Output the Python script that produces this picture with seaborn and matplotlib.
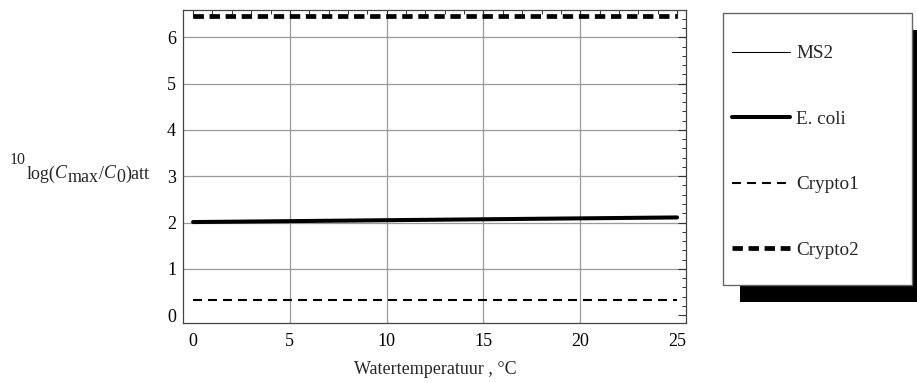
import numpy as np
import pandas as pd
import seaborn as sns
import matplotlib
matplotlib.use("Agg")
import matplotlib.pyplot as plt
from matplotlib.patches import Rectangle
from matplotlib.lines import Line2D
from matplotlib.ticker import MultipleLocator

# ---- data ----
temperature = [0, 5, 10, 15, 20, 25]
ms2 = [7.6, 7.6, 7.6, 7.6, 7.6, 7.6]          # above the plotted range (not visible)
ecoli = [2.01, 2.03, 2.05, 2.07, 2.09, 2.11]
crypto1 = [0.33, 0.33, 0.33, 0.33, 0.33, 0.33]
crypto2 = [6.46, 6.46, 6.46, 6.46, 6.46, 6.46]
series_names = ["MS2", "E. coli", "Crypto1", "Crypto2"]
x_ticks = [0, 5, 10, 15, 20, 25]
y_ticks = [0, 1, 2, 3, 4, 5, 6]
x_grid = [5, 10, 15, 20]
y_grid = [1, 2, 3, 4, 5, 6]

sns.set_style("white")
plt.rcParams["font.family"] = ["Liberation Serif", "DejaVu Serif"]

FS = 13
W, H = 917, 383
fig = plt.figure(figsize=(W / 100, H / 100), dpi=100)
ax = fig.add_axes([183 / W, 1 - 323 / H, (686 - 183) / W, (323 - 10) / H])

df = pd.DataFrame({"T": temperature, "MS2": ms2, "E. coli": ecoli,
                   "Crypto1": crypto1, "Crypto2": crypto2})

styles = {
    "MS2": dict(lw=0.8, ls="-"),
    "E. coli": dict(lw=2.9, ls="-"),
    "Crypto1": dict(lw=1.5, ls=(0, (4.3, 2.9))),
    "Crypto2": dict(lw=3.4, ls=(0, (2.2, 1.2))),
}

for gx in x_grid:
    ax.axvline(gx, color="#9a9a9a", lw=0.9, zorder=0)
for gy in y_grid:
    ax.axhline(gy, color="#9a9a9a", lw=0.9, zorder=0)

for name in series_names:
    st = styles[name]
    sns.lineplot(data=df, x="T", y=name, ax=ax, color="black",
                 linewidth=st["lw"], linestyle=st["ls"], legend=False,
                 zorder=3)

ax.set_xlim(-0.52, 25.46)
ax.set_ylim(-0.17, 6.59)
ax.set_xticks(x_ticks)
ax.set_yticks(y_ticks)
ax.xaxis.set_minor_locator(MultipleLocator(1))
ax.yaxis.set_minor_locator(MultipleLocator(0.2))
ax.tick_params(which="both", direction="in", top=True, right=True,
               colors="#333333", labelcolor="black", labelsize=FS)
ax.tick_params(which="major", length=6, width=0.8)
ax.tick_params(which="minor", length=3, width=0.7)
ax.tick_params(axis="x", pad=7)
ax.tick_params(axis="y", pad=5)
for sp in ax.spines.values():
    sp.set_color("#444444")
    sp.set_linewidth(0.9)
ax.set_xlabel("")
ax.set_ylabel("")

fig.text(435 / W, 1 - 369 / H, "Watertemperatuur , °C", ha="center",
         va="center", fontsize=FS)

# y label composed of pieces (Mathematica-style layout)
renderer = fig.canvas.get_renderer()
pieces = [  # text, style, size, baseline (pixels from top)
    ("10", "normal", 11.5, 164),
    ("log(", "normal", FS, 179),
    ("C", "italic", FS, 178),
    ("max", "normal", FS, 182),
    ("/", "normal", FS, 179),
    ("C", "italic", FS, 178),
    ("0", "normal", FS, 182),
    (")att", "normal", FS, 179),
]
xpix = 10.0
for s, style, size, base in pieces:
    t = fig.text(xpix / W, 1 - base / H, s, fontsize=size, style=style,
                 ha="left", va="baseline")
    bb = t.get_window_extent(renderer)
    xpix = bb.x1 + 0.3

# legend box with shadow
fig.patches.append(Rectangle((740 / W, 1 - 302 / H), (917 - 740) / W,
                             (302 - 30) / H, transform=fig.transFigure,
                             facecolor="black", edgecolor="none", zorder=1))
fig.patches.append(Rectangle((723 / W, 1 - 285 / H), (912 - 723) / W,
                             (285 - 13) / H, transform=fig.transFigure,
                             facecolor="white", edgecolor="#666666",
                             lw=1.0, zorder=2))
handles = [Line2D([], [], color="black", lw=styles[n]["lw"],
                  linestyle=styles[n]["ls"]) for n in series_names]
leg = fig.legend(handles, series_names, loc="upper left",
                 bbox_to_anchor=(732 / W, 1 - 45 / H),
                 frameon=False, fontsize=13.8, handlelength=3.03,
                 handletextpad=0.31, labelspacing=2.51, borderpad=0,
                 borderaxespad=0)
leg.set_zorder(5)

fig.savefig("out.png", dpi=100)
